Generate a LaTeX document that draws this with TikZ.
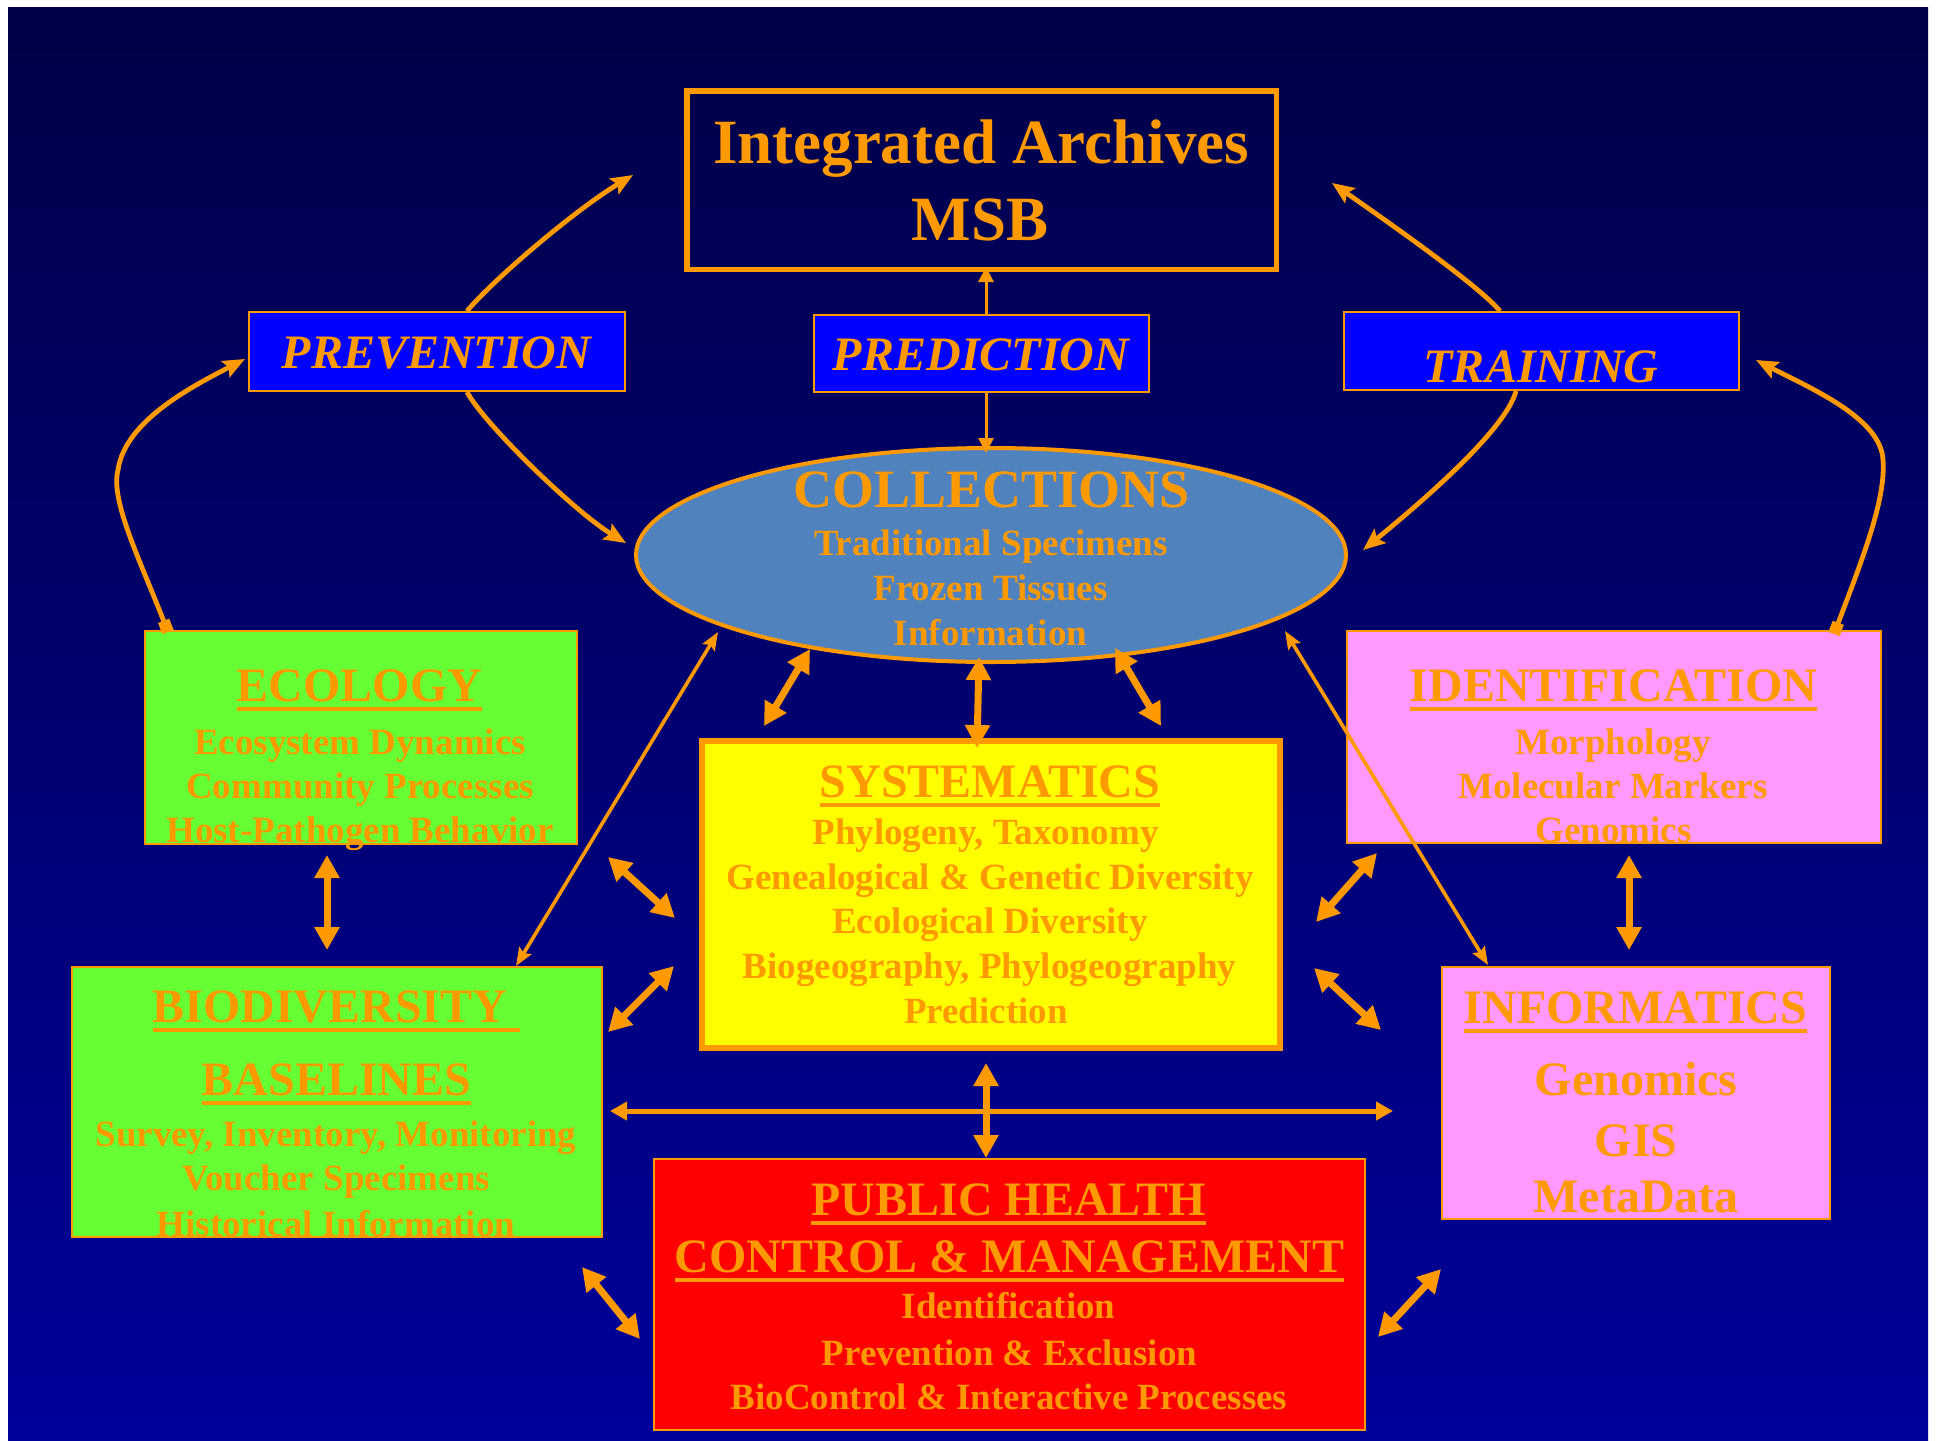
\documentclass[tikz,border=0pt]{standalone}
\usepackage{fontspec}
\setmainfont{Liberation Serif}
\usetikzlibrary{arrows.meta,shapes.geometric}
\definecolor{org}{RGB}{255,153,0}
\definecolor{bgtop}{RGB}{0,0,72}
\definecolor{bgbot}{RGB}{0,0,155}
\definecolor{grn}{RGB}{102,255,51}
\definecolor{pnk}{RGB}{255,153,255}
\definecolor{ylw}{RGB}{255,255,0}
\definecolor{rd}{RGB}{255,0,0}
\definecolor{bbox}{RGB}{0,0,255}
\definecolor{ell}{RGB}{80,130,190}
\begin{document}
\begin{tikzpicture}[x=0.5pt,y=-0.5pt,
  box/.style={draw=org, line width=1pt, inner sep=0pt, outer sep=0pt},
  tx/.style={text=org, inner sep=0pt, outer sep=0pt, anchor=base, font=\bfseries\fontsize{18.5}{18.5}\selectfont},
  hd/.style={tx, font=\bfseries\fontsize{24}{24}\selectfont},
  lbl/.style={tx, font=\bfseries\itshape\fontsize{24}{24}\selectfont},
  ul/.style={org, line width=2pt},
  dbl/.style={org, line width=3.5pt, >={Triangle[length=11.5pt,width=12pt]}, <->},
  hzdbl/.style={org, line width=2.5pt, >={Triangle[length=8.5pt,width=9pt]}, <->},
  thinline/.style={org, line width=1.8pt, >={Stealth[length=9pt,width=7pt,inset=1.5pt]}, <->},
  predarr/.style={org, line width=1.5pt, -{Triangle[length=7.5pt,width=7.5pt]}},
  curvarr/.style={org, line width=2.4pt, -{Stealth[length=11pt,width=9pt,inset=2pt]}},
  sqcurvarr/.style={org, line width=2.4pt, {Square[length=6pt,width=6pt]}-{Stealth[length=11pt,width=9pt,inset=2pt]}}
]
\useasboundingbox (0,0) rectangle (1937,1440);
\fill[white] (0,0) rectangle (1937,1440);
\shade[top color=bgtop, bottom color=bgbot] (8,7) rectangle (1928,1440);

% Integrated Archives
\node[box, line width=2.75pt, minimum width=294.75pt, minimum height=89.25pt] (arch) at (981.5,180) {};
\node[tx, font=\bfseries\fontsize{31.5}{31.5}\selectfont] (arch1) at (981,163) {Integrated Archives};
\node[tx, font=\bfseries\fontsize{31.5}{31.5}\selectfont] (arch2) at (980,240) {MSB};

% blue labels
\node[box, fill=bbox, minimum width=188pt, minimum height=39.5pt] (prev) at (437,351.5) {};
\node[lbl] (prevt) at (436.5,368) {PREVENTION};
\node[box, fill=bbox, minimum width=167.5pt, minimum height=38.5pt] (pred) at (981.5,353.5) {};
\node[lbl] (predt) at (981,370) {PREDICTION};
\node[box, fill=bbox, minimum width=197.5pt, minimum height=39pt] (trai) at (1541.5,351) {};
\node[lbl] (trait) at (1541,382) {TRAINING};

% Collections
\node[ellipse, draw=org, line width=2pt, fill=ell, minimum width=355pt, minimum height=107pt, inner sep=0pt] (coll) at (991,555) {};
\node[tx, font=\bfseries\fontsize{27}{27}\selectfont] (coll1) at (991.5,507) {COLLECTIONS};
\node[tx] (coll2) at (991,555) {Traditional Specimens};
\node[tx] (coll3) at (990.5,600) {Frozen Tissues};
\node[tx] (coll4) at (990.5,645) {Information};

% Ecology
\node[box, fill=grn, minimum width=216pt, minimum height=106.5pt] (eco) at (361,737.5) {};
\node[hd] (eco1) at (359.5,701) {ECOLOGY};
\node[tx] (eco2) at (360,754) {Ecosystem Dynamics};
\node[tx] (eco3) at (360,798) {Community Processes};
\node[tx] (eco4) at (360,842) {Host-Pathogen Behavior};

% Biodiversity baselines
\node[box, fill=grn, minimum width=265pt, minimum height=135pt] (bio) at (337,1102) {};
\node[hd] (bio1) at (330,1022) {BIODIVERSITY};
\node[hd] (bio2) at (336.5,1095) {BASELINES};
\node[tx] (bio3) at (336,1146) {Survey, Inventory, Monitoring};
\node[tx] (bio4) at (336,1190) {Voucher Specimens};
\node[tx] (bio5) at (336,1236) {Historical Information};

% Systematics
\node[box, fill=ylw, line width=3pt, minimum width=289pt, minimum height=153.5pt] (sys) at (991,894.5) {};
\node[hd] (sys1) at (990,797) {SYSTEMATICS};
\node[tx] (sys2) at (985.5,844) {Phylogeny, Taxonomy};
\node[tx] (sys3) at (990,889) {Genealogical \& Genetic Diversity};
\node[tx] (sys4) at (990,933) {Ecological Diversity};
\node[tx] (sys5) at (989.5,978) {Biogeography, Phylogeography};
\node[tx] (sys6) at (986,1023) {Prediction};

% Identification
\node[box, fill=pnk, minimum width=267pt, minimum height=106pt] (idf) at (1614,737) {};
\node[hd] (idf1) at (1613.5,701) {IDENTIFICATION};
\node[tx] (idf2) at (1613,754) {Morphology};
\node[tx] (idf3) at (1613,798) {Molecular Markers};
\node[tx] (idf4) at (1613.5,842) {Genomics};

% Informatics
\node[box, fill=pnk, minimum width=194pt, minimum height=126pt] (inf) at (1636,1093) {};
\node[hd] (inf1) at (1635.5,1023) {INFORMATICS};
\node[hd] (inf2) at (1636,1095) {Genomics};
\node[hd] (inf3) at (1636,1156) {GIS};
\node[hd] (inf4) at (1636,1212) {MetaData};

% Public health
\node[box, fill=rd, minimum width=355.5pt, minimum height=135.5pt] (ph) at (1009.5,1294.5) {};
\node[hd] (ph1) at (1008.5,1215) {PUBLIC HEALTH};
\node[hd] (ph2) at (1009.5,1272) {CONTROL \& MANAGEMENT};
\node[tx] (ph3) at (1008.5,1318) {Identification};
\node[tx] (ph4) at (1009.5,1365) {Prevention \& Exclusion};
\node[tx] (ph5) at (1009,1409) {BioControl \& Interactive Processes};

% underlines
\foreach \n in {eco1,bio2,sys1,idf1,inf1,ph1,ph2}
  \draw[ul] ([yshift=-4pt]\n.base west) -- ([yshift=-4pt]\n.base east);
\draw[ul] ([yshift=-4pt]bio1.base west) -- ([yshift=-4pt,xshift=6.5pt]bio1.base east);

% coordinates of free ends
\coordinate (pa1) at (986,314); \coordinate (pa2) at (986,267);
\coordinate (pb1) at (986,393); \coordinate (pb2) at (986,453);
\coordinate (cv1s) at (467,311); \coordinate (cv1e) at (633,175);
\coordinate (cv2s) at (467,392); \coordinate (cv2e) at (626,543);
\coordinate (cv3s) at (168,632); \coordinate (cv3m) at (118,470); \coordinate (cv3e) at (245,359);
\coordinate (cv4s) at (1500,311); \coordinate (cv4e) at (1332,183);
\coordinate (cv5s) at (1516,391); \coordinate (cv5e) at (1363,550);
\coordinate (cv6s) at (1834,634); \coordinate (cv6m) at (1883,460); \coordinate (cv6e) at (1756,360);
\coordinate (lb1) at (718,632); \coordinate (lb2) at (516,966);
\coordinate (li1) at (1285,631); \coordinate (li2) at (1488,965);
\coordinate (cs1a) at (810,649); \coordinate (cs1b) at (764,726);
\coordinate (cs2a) at (979,657); \coordinate (cs2b) at (977,748);
\coordinate (cs3a) at (1115,648); \coordinate (cs3b) at (1161,726);
\coordinate (eb1) at (327,855); \coordinate (eb2) at (327,950);
\coordinate (ii1) at (1629,855); \coordinate (ii2) at (1629,950);
\coordinate (sl1a) at (608,857); \coordinate (sl1b) at (675,918);
\coordinate (sl2a) at (674,966); \coordinate (sl2b) at (608,1032);
\coordinate (sr1a) at (1377,853); \coordinate (sr1b) at (1316,922);
\coordinate (sr2a) at (1314,968); \coordinate (sr2b) at (1381,1030);
\coordinate (hz1) at (610,1111); \coordinate (hz2) at (1393,1111);
\coordinate (vt1) at (986,1063); \coordinate (vt2) at (986,1158);
\coordinate (pl1) at (582,1267); \coordinate (pl2) at (640,1339);
\coordinate (pr1) at (1441,1269); \coordinate (pr2) at (1378,1337);

% connectors
\draw[predarr] (pa1) -- (pa2);
\draw[predarr] (pb1) -- (pb2);
\draw[curvarr] (cv1s) .. controls (495,278) and (575,210) .. (cv1e);
\draw[curvarr] (cv2s) .. controls (485,425) and (575,512) .. (cv2e);
\draw[sqcurvarr] (cv3s) .. controls (140,560) and (110,500) .. (cv3m) .. controls (125,420) and (195,385) .. (cv3e);
\draw[curvarr] (cv4s) .. controls (1478,285) and (1388,222) .. (cv4e);
\draw[curvarr] (cv5s) .. controls (1506,430) and (1418,505) .. (cv5e);
\draw[sqcurvarr] (cv6s) .. controls (1862,560) and (1886,500) .. (cv6m) .. controls (1881,418) and (1810,388) .. (cv6e);
\draw[thinline] (lb1) -- (lb2);
\draw[thinline] (li1) -- (li2);
\draw[dbl] (cs1a) -- (cs1b);
\draw[dbl] (cs2a) -- (cs2b);
\draw[dbl] (cs3a) -- (cs3b);
\draw[dbl] (eb1) -- (eb2);
\draw[dbl] (ii1) -- (ii2);
\draw[dbl] (sl1a) -- (sl1b);
\draw[dbl] (sl2a) -- (sl2b);
\draw[dbl] (sr1a) -- (sr1b);
\draw[dbl] (sr2a) -- (sr2b);
\draw[hzdbl] (hz1) -- (hz2);
\draw[dbl] (vt1) -- (vt2);
\draw[dbl] (pl1) -- (pl2);
\draw[dbl] (pr1) -- (pr2);
\end{tikzpicture}
\end{document}
